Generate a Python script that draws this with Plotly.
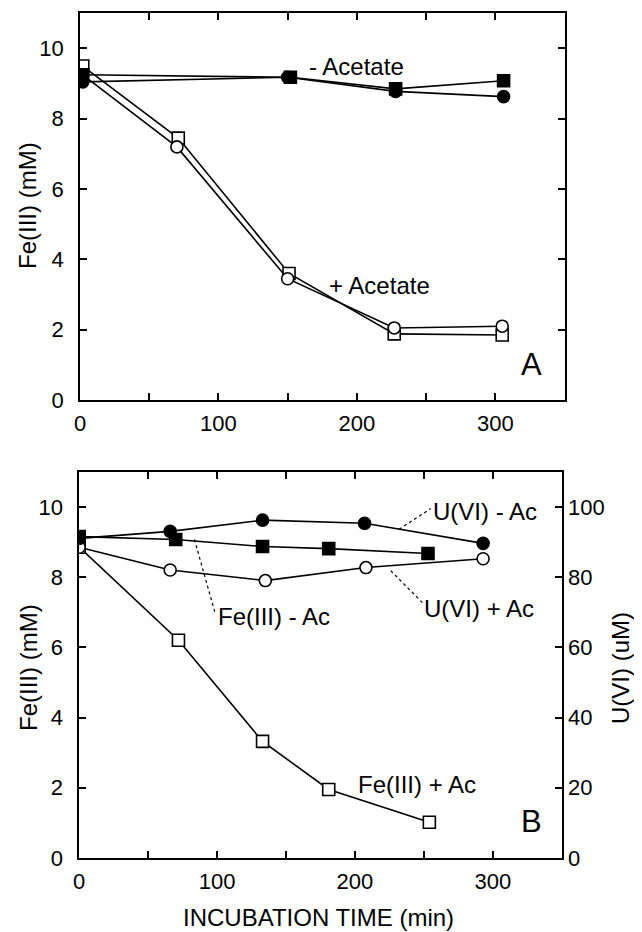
import plotly.graph_objects as go

# ---- Panel A: Fe(III) with / without acetate ----
a_t_sq_open = [2, 71, 151, 227, 305]
a_fe_sq_open = [9.5, 7.45, 3.6, 1.88, 1.85]
a_t_ci_open = [2, 70, 150, 227, 305]
a_fe_ci_open = [9.25, 7.2, 3.45, 2.05, 2.1]
a_t_sq_fill = [2, 152, 228, 306]
a_fe_sq_fill = [9.25, 9.18, 8.85, 9.08]
a_t_ci_fill = [2, 150, 228, 306]
a_fe_ci_fill = [9.05, 9.18, 8.78, 8.63]

# ---- Panel B: Fe(III) (mM) and U(VI) (uM) ----
b_t_fe_ac = [0, 72, 133, 181, 254]
b_fe_ac = [8.85, 6.2, 3.32, 1.95, 1.02]
b_t_fe_noac = [0, 70, 133, 181, 253]
b_fe_noac = [9.15, 9.07, 8.87, 8.81, 8.67]
b_t_u_noac = [0, 66, 133, 207, 293]
b_u_noac = [91, 93, 96.2, 95.3, 89.6]
b_t_u_ac = [0, 66, 135, 208, 293]
b_u_ac = [88.5, 82, 79, 82.7, 85.2]

x_ticks = [0, 50, 100, 150, 200, 250, 300]
x_labels = ["0", "", "100", "", "200", "", "300"]
fe_ticks = [0, 2, 4, 6, 8, 10]
u_ticks = [0, 20, 40, 60, 80, 100]

# page body has an 8px margin, so the figure is drawn from (8, 8)
OFF = 8
W, H = 642 - OFF, 932 - OFF
FONT = "Liberation Sans, Arial, Helvetica, sans-serif"


def px(x):
    return (x - OFF) / W


def py(y):
    return 1 - (y - OFF) / H


def series(x, y, symbol, filled, xa, ya):
    return go.Scatter(
        x=x, y=y, mode="lines+markers", xaxis=xa, yaxis=ya,
        line=dict(color="black", width=1.6),
        marker=dict(symbol=symbol, size=12, color="black" if filled else "white",
                    line=dict(color="black", width=1.6)),
        showlegend=False)


fig = go.Figure()
fig.add_trace(series(a_t_sq_open, a_fe_sq_open, "square", False, "x", "y"))
fig.add_trace(series(a_t_ci_open, a_fe_ci_open, "circle", False, "x", "y"))
fig.add_trace(series(a_t_sq_fill, a_fe_sq_fill, "square", True, "x", "y"))
fig.add_trace(series(a_t_ci_fill, a_fe_ci_fill, "circle", True, "x", "y"))

fig.add_trace(series(b_t_fe_ac, b_fe_ac, "square", False, "x2", "y2"))
fig.add_trace(series(b_t_u_ac, b_u_ac, "circle", False, "x2", "y3"))
fig.add_trace(series(b_t_u_noac, b_u_noac, "circle", True, "x2", "y3"))
fig.add_trace(series(b_t_fe_noac, b_fe_noac, "square", True, "x2", "y2"))

axis_common = dict(showline=True, linecolor="black", linewidth=1.8, ticks="inside",
                   ticklen=7, tickwidth=1.5, tickcolor="black", showgrid=False,
                   zeroline=False, tickfont=dict(family=FONT, size=22, color="black"),
                   automargin=False)

fig.update_layout(
    width=W, height=H,
    margin=dict(l=0, r=0, t=0, b=0),
    paper_bgcolor="white", plot_bgcolor="white",
    font=dict(family=FONT, size=22, color="black"),
    xaxis=dict(domain=[px(80), px(564.5)], anchor="y", range=[0, 350],
               tickvals=x_ticks, ticktext=x_labels, mirror="ticks",
               ticklabelstandoff=3, **axis_common),
    yaxis=dict(domain=[py(400), py(13.3)], anchor="x", range=[0, 11],
               tickvals=fe_ticks, mirror="ticks", ticklabelstandoff=10, **axis_common),
    xaxis2=dict(domain=[px(79.2), px(561.7)], anchor="y2", range=[0, 350],
                tickvals=x_ticks, ticktext=x_labels, mirror="ticks",
                ticklabelstandoff=3, **axis_common),
    yaxis2=dict(domain=[py(858), py(471.7)], anchor="x2", range=[0, 11],
                tickvals=fe_ticks, mirror="ticks", ticklabelstandoff=10, **axis_common),
    yaxis3=dict(overlaying="y2", side="right", anchor="x2", range=[0, 110],
                tickvals=u_ticks, ticklabelstandoff=0, **axis_common),
)

ann = [
    # panel A labels
    dict(x=164, y=9.5, xref="x", yref="y", text="- Acetate", xanchor="left", size=24),
    dict(x=216, y=3.25, xref="x", yref="y", text="+ Acetate", xanchor="center", size=24),
    dict(x=326, y=1.0, xref="x", yref="y", text="A", xanchor="center", size=31),
    # panel B labels
    dict(x=255, y=9.88, xref="x2", yref="y2", text="U(VI) - Ac", xanchor="left", size=24),
    dict(x=249, y=7.1, xref="x2", yref="y2", text="U(VI) + Ac", xanchor="left", size=24),
    dict(x=99, y=6.88, xref="x2", yref="y2", text="Fe(III) - Ac", xanchor="left", size=24),
    dict(x=245, y=2.08, xref="x2", yref="y2", text="Fe(III) + Ac", xanchor="center", size=24),
    dict(x=328, y=1.04, xref="x2", yref="y2", text="B", xanchor="center", size=31),
]
annotations = []
for a in ann:
    annotations.append(dict(x=a["x"], y=a["y"], xref=a["xref"], yref=a["yref"],
                            text=a["text"], xanchor=a["xanchor"], yanchor="middle",
                            showarrow=False, font=dict(family=FONT, size=a["size"], color="black")))

# axis titles
titles = [
    (27, 206, "Fe(III) (mM)", -90),
    (28, 668, "Fe(III) (mM)", -90),
    (620, 668, "U(VI) (uM)", -90),
    (318, 917, "INCUBATION TIME (min)", 0),
]
for x, y, txt, ang in titles:
    annotations.append(dict(x=px(x), y=py(y), xref="paper", yref="paper", text=txt,
                            textangle=ang, xanchor="center", yanchor="middle",
                            showarrow=False, font=dict(family=FONT, size=24, color="black")))
fig.update_layout(annotations=annotations)

# dotted leader lines in panel B
leaders = [
    ((232, 9.36), (255, 9.95)),
    ((226, 8.18), (249.5, 7.25)),
    ((83.6, 9.07), (98.4, 7.0)),
]
for (x0, y0), (x1, y1) in leaders:
    fig.add_shape(type="line", x0=x0, y0=y0, x1=x1, y1=y1, xref="x2", yref="y2",
                  line=dict(color="black", width=1.2, dash="dot"))

fig.write_html("out.html")
